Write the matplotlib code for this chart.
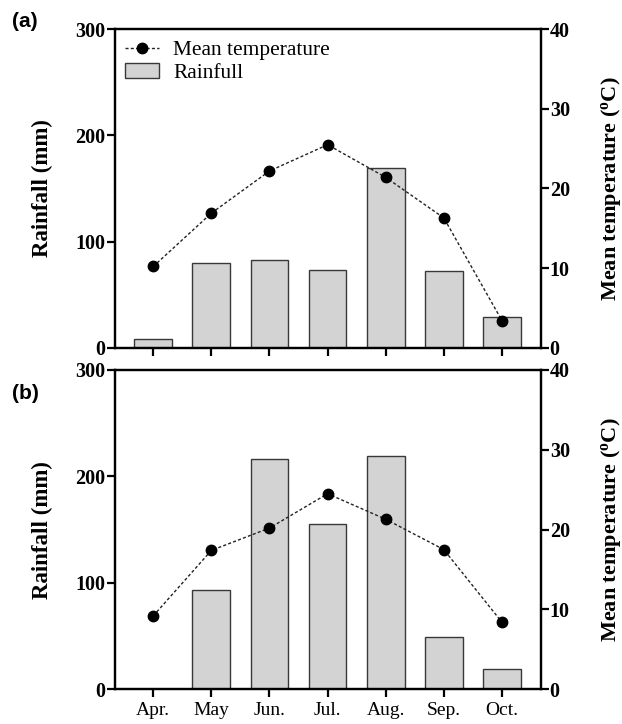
import numpy as np
import matplotlib.pyplot as plt

plt.rcParams['font.family'] = ['Liberation Serif', 'DejaVu Serif']

months = ['Apr.', 'May', 'Jun.', 'Jul.', 'Aug.', 'Sep.', 'Oct.']

# panel (a)
rain_a = [8.5, 80, 82.4, 73.5, 169, 72.3, 28.9]
temp_a = [10.2, 16.9, 22.2, 25.5, 21.4, 16.3, 3.4]

# panel (b)
rain_b = [0, 93.3, 216.4, 155, 219, 48.9, 19.4]
temp_b = [9.2, 17.4, 20.2, 24.5, 21.3, 17.5, 8.4]

fig = plt.figure(figsize=(6.22, 7.24), dpi=100)
ax_a = fig.add_axes([0.1841, 0.5198, 0.6852, 0.4397])
ax_b = fig.add_axes([0.1841, 0.0479, 0.6852, 0.4411])


def draw_panel(ax, rain, temp, show_months, show_legend):
    x = np.arange(len(months))
    bars = ax.bar(x, rain, width=0.65, color='#d3d3d3', edgecolor='#383838',
                  linewidth=1.0, label='Rainfull', zorder=2)
    ax.set_xlim(-2 / 3, len(months) - 1 + 2 / 3)
    ax.set_ylim(0, 300)
    ax.set_yticks([0, 100, 200, 300])
    ax.set_ylabel('Rainfall (mm)', fontsize=16.5, fontweight='bold')
    ax.yaxis.set_label_coords(-0.144, 0.5)

    ax2 = ax.twinx()
    line, = ax2.plot(x, temp, linestyle=(0, (2.2, 1.6)), color='#222222', linewidth=1.0,
                     marker='o', markersize=7.5, markerfacecolor='black',
                     markeredgecolor='black', label='Mean temperature', zorder=3)
    ax2.set_ylim(0, 40)
    ax2.set_yticks([0, 10, 20, 30, 40])
    ax2.set_ylabel('Mean temperature ($\\mathregular{^o}$C)', fontsize=16,
                   fontweight='bold')
    ax2.yaxis.set_label_coords(1.137, 0.5)

    for a in (ax, ax2):
        for s in a.spines.values():
            s.set_linewidth(1.6)
        a.tick_params(axis='y', direction='out', length=5.5, width=1.6,
                      labelsize=14.5, pad=1)
        for lab in a.get_yticklabels():
            lab.set_fontweight('bold')

    ax.set_xticks(x)
    ax.tick_params(axis='x', direction='out', length=5.5, width=1.6, pad=3.5)
    if show_months:
        ax.set_xticklabels(months, fontsize=14)
    else:
        ax.set_xticklabels([])

    if show_legend:
        ax.legend([line, bars], ['Mean temperature', 'Rainfull'], loc='upper left',
                  frameon=False, fontsize=15.4, handlelength=1.6,
                  borderaxespad=0.1, labelspacing=0.15, handletextpad=0.65)
    return ax2


draw_panel(ax_a, rain_a, temp_a, False, True)
draw_panel(ax_b, rain_b, temp_b, True, False)

fig.text(0.019, 0.970, '(a)', fontsize=15, fontweight='bold',
         family=['Liberation Sans'], va='center')
fig.text(0.019, 0.457, '(b)', fontsize=15, fontweight='bold',
         family=['Liberation Sans'], va='center')

fig.savefig('out.png', dpi=100)
